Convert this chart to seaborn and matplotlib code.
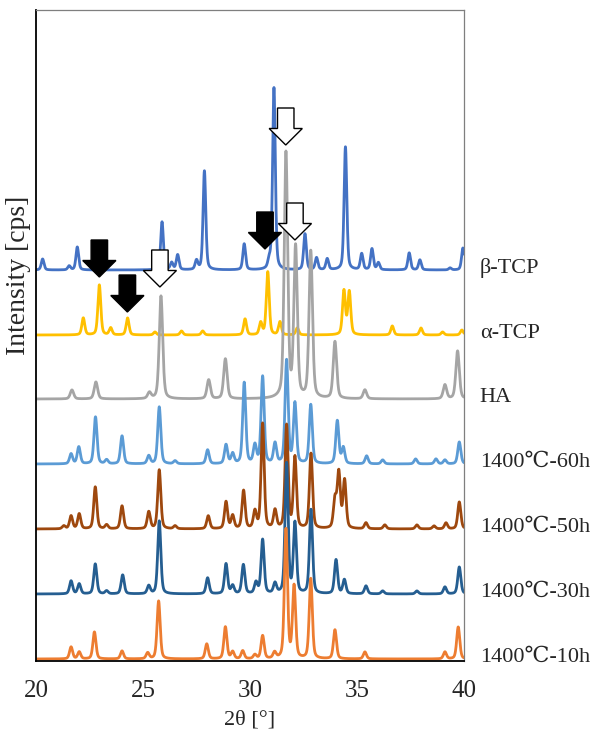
import numpy as np
import pandas as pd
import seaborn as sns
import matplotlib
matplotlib.use("Agg")
import matplotlib.pyplot as plt
from matplotlib.patches import FancyArrow

# ---------------- data ----------------
samples = ["β-TCP", "α-TCP", "HA", "1400℃-60h", "1400℃-50h", "1400℃-30h", "1400℃-10h"]
offsets = [391, 326, 262, 197, 132, 67, 2]

beta_pos = [20.31, 21.55, 21.93, 25.89, 26.34, 26.62, 27.5, 27.87, 29.73, 30.9, 31.12,
            32.57, 33.11, 33.61, 34.46, 35.22, 35.70, 36.0, 37.44, 37.94, 39.35, 39.95]
beta_hgt = [11, 4, 23, 48, 7, 15, 9, 99, 26, 8, 182,
            36, 12, 11, 123, 16, 21, 7, 17, 10, 2, 22]

alpha_pos = [22.21, 22.96, 23.49, 24.28, 25.56, 26.8, 27.79, 29.77, 30.5, 30.83, 31.40,
             32.21, 34.39, 34.64, 36.65, 37.99, 39.0, 39.9]
alpha_hgt = [17, 50, 7, 17, 3, 4, 4, 16, 12, 63, 13,
             7, 44, 43, 9, 7, 3, 5]

ha_pos = [21.68, 22.80, 25.30, 25.84, 28.07, 28.85, 31.68, 32.13, 32.84, 33.97, 35.37, 39.11, 39.70]
ha_hgt = [9, 17, 6, 103, 19, 40, 245, 150, 147, 57, 9, 14, 48]

h60_pos = [21.64, 22.0, 22.78, 23.3, 24.02, 25.27, 25.76, 26.5, 28.02, 28.88, 29.19, 29.73,
           30.23, 30.59, 31.17, 31.71, 32.1, 32.84, 34.08, 34.36, 35.45, 36.2, 37.74, 38.69,
           39.11, 39.78]
h60_hgt = [10, 17, 47, 4, 28, 8, 57, 3, 14, 19, 10, 81,
           18, 87, 20, 103, 60, 59, 43, 16, 8, 4, 5, 5,
           4, 22]

h50_pos = [21.3, 21.64, 22.02, 22.77, 23.3, 24.02, 25.27, 25.76, 26.5, 28.05, 28.88, 29.19,
           29.70, 30.23, 30.59, 31.17, 31.71, 32.1, 32.85, 33.97, 34.15, 34.42, 35.42, 36.3,
           37.8, 38.6, 39.16, 39.78]
h50_hgt = [3, 13, 15, 42, 4, 23, 17, 59, 3, 13, 27, 13,
           38, 17, 105, 18, 103, 71, 75, 28, 55, 48, 6, 4,
           4, 3, 6, 27]

h30_pos = [21.64, 22.02, 22.77, 23.3, 24.05, 25.27, 25.76, 28.02, 28.88, 29.19, 29.69, 30.28,
           30.59, 31.17, 31.71, 32.1, 32.85, 34.02, 34.41, 35.42, 36.2, 37.8, 39.11, 39.78]
h30_hgt = [13, 10, 30, 3, 19, 8, 73, 16, 30, 8, 29, 11,
           54, 10, 130, 70, 84, 34, 14, 8, 3, 3, 7, 27]

h10_pos = [21.64, 22.02, 22.73, 24.02, 25.22, 25.73, 27.98, 28.85, 29.19, 29.66, 30.23, 30.59,
           31.15, 31.68, 32.06, 32.84, 33.97, 35.37, 39.11, 39.73]
h10_hgt = [12, 7, 27, 8, 6, 58, 15, 32, 7, 8, 4, 23,
           6, 129, 72, 80, 29, 7, 7, 32]

# arrows: (2θ of tip, tip height, filled?)
arrow_x = [22.96, 24.27, 30.70, 25.79, 31.67, 32.10]
arrow_tip = [384, 349, 412, 374, 516, 421]
arrow_filled = [True, True, True, False, False, False]

colors = ["#4472C4", "#FFC000", "#A5A5A5", "#5B9BD5", "#9E480E", "#255E91", "#ED7D31"]

# ---------------- build curves ----------------
two_theta = np.round(np.arange(20.0, 40.0001, 0.01), 3)


def profile(pos, hgt, fwhm, eta=0.4):
    x = two_theta[:, None]
    d = (x - np.asarray(pos)[None, :]) / fwhm
    g = np.exp(-4 * np.log(2) * d ** 2)
    lor = 1.0 / (1.0 + 4 * d ** 2)
    return ((eta * lor + (1 - eta) * g) * np.asarray(hgt)[None, :]).sum(axis=1)


peak_sets = [(beta_pos, beta_hgt, 0.15), (alpha_pos, alpha_hgt, 0.16), (ha_pos, ha_hgt, 0.19),
             (h60_pos, h60_hgt, 0.17), (h50_pos, h50_hgt, 0.17), (h30_pos, h30_hgt, 0.17),
             (h10_pos, h10_hgt, 0.17)]

frames = []
for name, off, (p, h, w) in zip(samples, offsets, peak_sets):
    frames.append(pd.DataFrame({"2θ": two_theta,
                                "I": off + profile(p, h, w),
                                "sample": name}))
df = pd.concat(frames, ignore_index=True)

# ---------------- plot ----------------
sns.set_theme(style="white")
plt.rcParams["font.family"] = ["Liberation Serif", "DejaVu Serif", "Noto Sans CJK JP"]

fig = plt.figure(figsize=(5.95, 7.42), dpi=100)
ax = fig.add_axes([36 / 595, 1 - 661 / 742, 428 / 595, 651 / 742])

sns.lineplot(data=df, x="2θ", y="I", hue="sample", hue_order=samples,
             palette=colors, estimator=None, sort=False, lw=2.0, legend=False, ax=ax)

for x0, tip, filled in zip(arrow_x, arrow_tip, arrow_filled):
    ax.add_patch(FancyArrow(x0, tip + 37, 0, -37, width=0.77, head_width=1.55,
                            head_length=16.5, length_includes_head=True,
                            facecolor="black" if filled else "white",
                            edgecolor="black", lw=1.0, zorder=5))

for name, off in zip(samples, offsets):
    ax.text(1.037, off + 2, name, transform=ax.get_yaxis_transform(),
            ha="left", va="center", fontsize=16)

ax.set_xlim(20, 40)
ax.set_ylim(0, 651)
ax.set_xticks([20, 25, 30, 35, 40])
ax.set_yticks([])
ax.tick_params(axis="x", length=0, pad=14, labelsize=18)
ax.set_xlabel("2θ [°]", fontsize=16, labelpad=6)
ax.set_ylabel("Intensity [cps]", fontsize=20)
ax.yaxis.set_label_coords(-0.042, 0.593)
ax.yaxis.label.set_va("center")

for s in ["left", "bottom"]:
    ax.spines[s].set_color("black")
    ax.spines[s].set_linewidth(1.3)
for s in ["top", "right"]:
    ax.spines[s].set_color("#7f7f7f")
    ax.spines[s].set_linewidth(0.9)

fig.savefig("out.png", dpi=100)
